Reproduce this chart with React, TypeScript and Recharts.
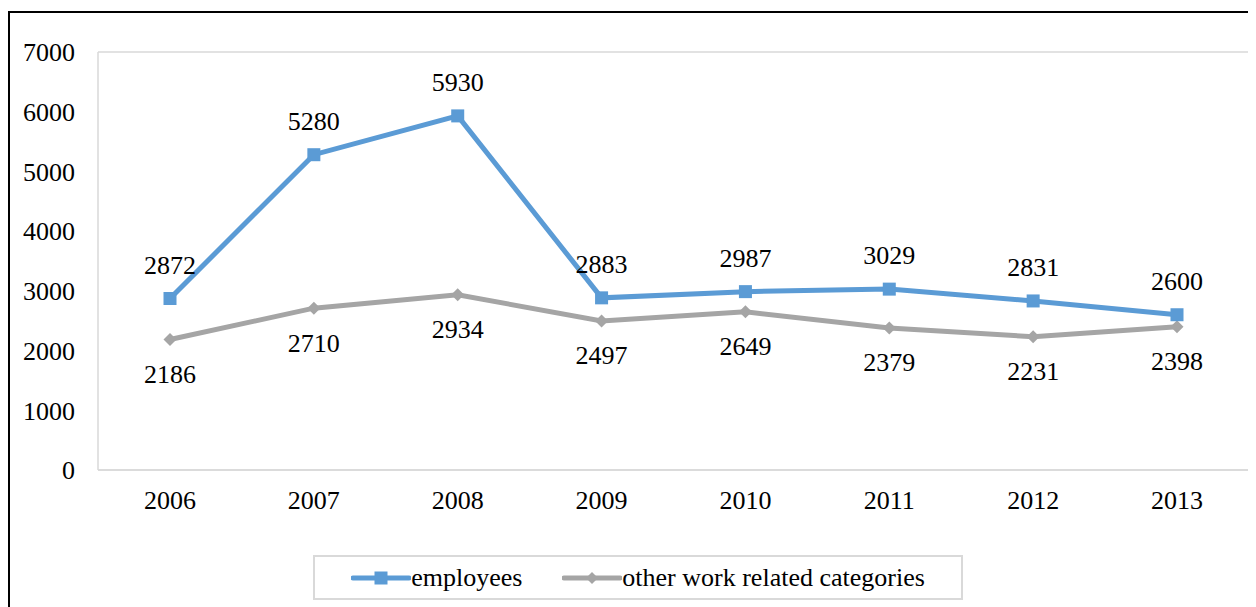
import React from 'react';
import { LineChart, Line, XAxis, YAxis, CartesianGrid, Legend, LabelList } from 'recharts';

const years = ['2006', '2007', '2008', '2009', '2010', '2011', '2012', '2013'];
const employees = [2872, 5280, 5930, 2883, 2987, 3029, 2831, 2600];
const otherCategories = [2186, 2710, 2934, 2497, 2649, 2379, 2231, 2398];
const yTicks = [0, 1000, 2000, 3000, 4000, 5000, 6000, 7000];

const seriesNames = { employees: 'employees', other: 'other work related categories' };

const data = years.map((y, i) => ({ year: y, employees: employees[i], other: otherCategories[i] }));

const FONT = '"Liberation Serif", "Times New Roman", serif';
const FS = 26;
const BLUE = '#5B9BD5';
const GRAY = '#A5A5A5';
const GRID = '#D9D9D9';

const SquareDot = (props: any) => {
  const { cx, cy } = props;
  if (cx == null || cy == null) return null;
  return <rect x={cx - 6.5} y={cy - 6.5} width={13} height={13} fill={BLUE} />;
};

const DiamondDot = (props: any) => {
  const { cx, cy } = props;
  if (cx == null || cy == null) return null;
  const r = 6.5;
  return <polygon points={`${cx},${cy - r} ${cx + r},${cy} ${cx},${cy + r} ${cx - r},${cy}`} fill={GRAY} />;
};

const renderLegend = () => (
  <div
    style={{
      width: 650,
      height: 45,
      boxSizing: 'border-box',
      border: `2px solid ${GRID}`,
      display: 'flex',
      alignItems: 'center',
      justifyContent: 'center',
      fontFamily: FONT,
      fontSize: FS,
      color: '#000',
    }}
  >
    <span style={{ display: 'flex', alignItems: 'center' }}>
      <svg width={60} height={20}>
        <line x1={2} y1={10} x2={58} y2={10} stroke={BLUE} strokeWidth={5} strokeLinecap="round" />
        <rect x={23.5} y={3.5} width={13} height={13} fill={BLUE} />
      </svg>
      <span>{seriesNames.employees}</span>
    </span>
    <span style={{ display: 'flex', alignItems: 'center', marginLeft: 40 }}>
      <svg width={60} height={20}>
        <line x1={2} y1={10} x2={58} y2={10} stroke={GRAY} strokeWidth={5} strokeLinecap="round" />
        <polygon points="30,4 36,10 30,16 24,10" fill={GRAY} />
      </svg>
      <span>{seriesNames.other}</span>
    </span>
  </div>
);

export default function App() {
  return (
    <div style={{ paddingTop: 3 }}>
      <div style={{ width: 1248, height: 596, borderTop: '2px solid #000', borderLeft: '2px solid #000', background: '#fff' }}>
        <LineChart
          width={1246}
          height={594}
          data={data}
          margin={{ top: 39, right: 7, left: 0, bottom: 52 }}
        >
          <CartesianGrid vertical={false} stroke={GRID} strokeWidth={1.5} />
          <XAxis
            dataKey="year"
            height={40}
            padding={{ left: 72, right: 72 }}
            tickLine={false}
            tickMargin={15}
            axisLine={{ stroke: GRID, strokeWidth: 1.5 }}
            tick={{ fill: '#000', fontFamily: FONT, fontSize: FS }}
          />
          <YAxis
            yAxisId="left"
            width={88}
            domain={[0, 7000]}
            ticks={yTicks}
            tickLine={false}
            tickMargin={17}
            axisLine={{ stroke: GRID, strokeWidth: 1.5 }}
            tick={{ fill: '#000', fontFamily: FONT, fontSize: FS }}
          />
          <YAxis
            yAxisId="right"
            orientation="right"
            width={0}
            domain={[0, 7000]}
            tick={false}
            tickLine={false}
            axisLine={{ stroke: GRID, strokeWidth: 1.5 }}
          />
          <Legend verticalAlign="bottom" content={renderLegend} wrapperStyle={{ left: 303, top: 542, width: 650, height: 45 }} />
          <Line
            yAxisId="left"
            type="linear"
            dataKey="other"
            name={seriesNames.other}
            stroke={GRAY}
            strokeWidth={5}
            dot={<DiamondDot />}
            activeDot={false}
            isAnimationActive={false}
          >
            <LabelList dataKey="other" position="bottom" offset={25} fill="#000" fontFamily={FONT} fontSize={FS} />
          </Line>
          <Line
            yAxisId="left"
            type="linear"
            dataKey="employees"
            name={seriesNames.employees}
            stroke={BLUE}
            strokeWidth={5}
            dot={<SquareDot />}
            activeDot={false}
            isAnimationActive={false}
          >
            <LabelList dataKey="employees" position="top" offset={25} fill="#000" fontFamily={FONT} fontSize={FS} />
          </Line>
        </LineChart>
      </div>
    </div>
  );
}
